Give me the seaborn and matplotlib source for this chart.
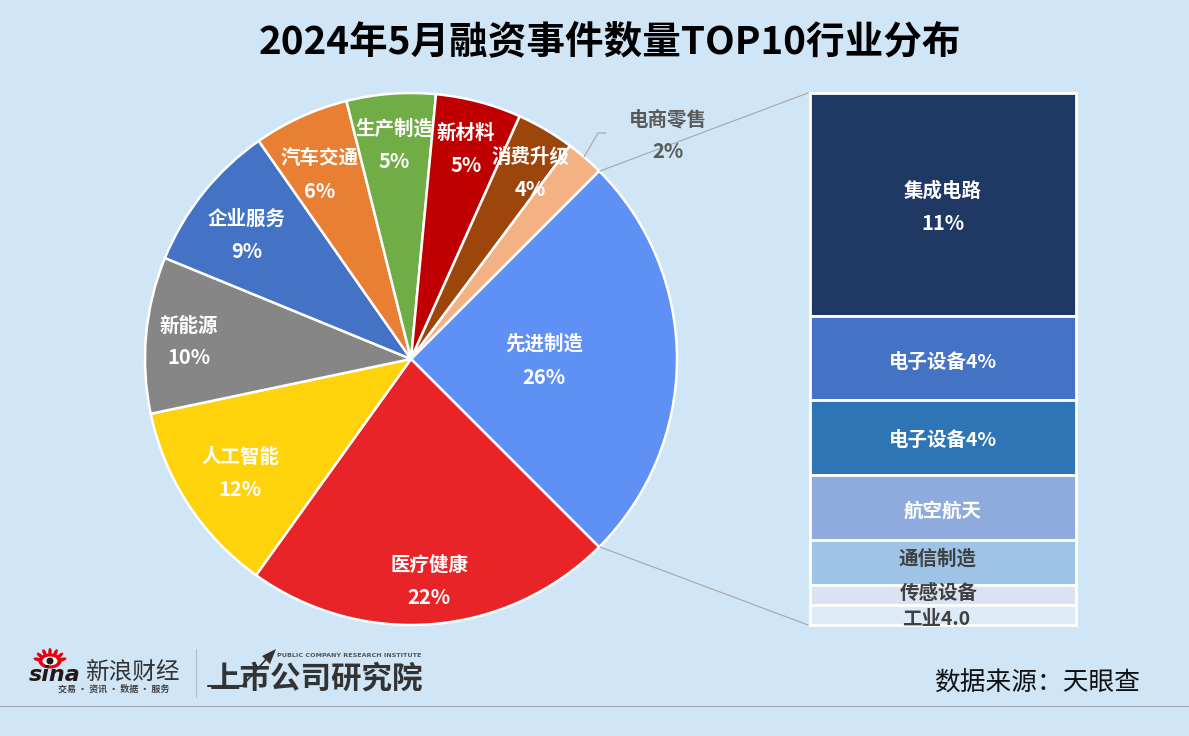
import numpy as np
import matplotlib
matplotlib.use('Agg')
import matplotlib.pyplot as plt
from matplotlib.patches import Ellipse, Polygon, Circle
import pandas as pd
import seaborn as sns

# pie data (percent)
industries = ['先进制造', '医疗健康', '人工智能', '新能源', '企业服务', '汽车交通', '生产制造', '新材料', '消费升级', '电商零售']
shares = [25.0, 22.4, 11.8, 9.5, 9.1, 5.8, 5.4, 5.2, 3.5, 2.3]
share_labels = ['26%', '22%', '12%', '10%', '9%', '6%', '5%', '5%', '4%', '2%']
pie_colors = ['#5F90F6', '#E92428', '#FFD30B', '#868686', '#4472C4', '#E97F32', '#70AD47', '#C00000', '#9C460B', '#F4B183']

# breakdown of 先进制造, top to bottom
sub_names = ['集成电路', '电子设备', '电子设备', '航空航天', '通信制造', '传感设备', '工业4.0']
sub_values = [11.0, 4.2, 3.7, 3.2, 2.2, 1.0, 1.0]
sub_colors = ['#1F3864', '#4472C4', '#2E75B6', '#8FAADC', '#9DC3E6', '#DAE3F3', '#DEEBF7']

BG = '#D0E5F5'
W, H = 1189, 736

sns.set_theme(style='white')
plt.rcParams['font.family'] = ['Noto Sans CJK SC', 'DejaVu Sans']


def px_axes(fig, left, top, right, bottom):
    return fig.add_axes([left / W, 1 - bottom / H, (right - left) / W, (bottom - top) / H])


fig = plt.figure(figsize=(W / 100, H / 100), dpi=100, facecolor=BG)

# pie
ax_pie = px_axes(fig, 145, 93, 677, 625)
ax_pie.pie(shares, colors=pie_colors, startangle=45, counterclock=False, radius=1,
           wedgeprops={'edgecolor': 'white', 'linewidth': 1.8, 'clip_on': False})
ax_pie.set_xlim(-1, 1)
ax_pie.set_ylim(-1, 1)
ax_pie.patch.set_alpha(0)

# stacked bar
ax_bar = px_axes(fig, 810, 93, 1076, 625)
df = pd.DataFrame({'x': 0, 'name': sub_names, 'value': sub_values, 'color': sub_colors})
df['bottom'] = df['value'].sum() - df['value'].cumsum()
for i, row in df.iterrows():
    sns.barplot(x=[row['x']], y=[row['value']], bottom=row['bottom'], color=row['color'], saturation=1,
                width=1, edgecolor='white', linewidth=2, clip_on=False, ax=ax_bar)
ax_bar.set_xlim(-0.5, 0.5)
ax_bar.set_ylim(0, df['value'].sum())
ax_bar.axis('off')

# overlay in pixel coordinates for texts, leaders and logo
ov = fig.add_axes([0, 0, 1, 1], zorder=5)
ov.set_xlim(0, W)
ov.set_ylim(H, 0)
ov.axis('off')

ov.text(610, 42, '2024年5月融资事件数量TOP10行业分布', fontsize=27.8, fontweight='bold', color='black',
        ha='center', va='center')

pie_label_pos = [(544, 344, 377), (429, 565, 597), (240, 457, 489), (189, 326, 358), (247, 219, 251),
                 (320, 158, 191), (394, 129, 162), (466, 133, 166), (530, 157, 189), (668, 120, 152)]
for name, lab, pos in zip(industries, share_labels, pie_label_pos):
    c = '#595959' if name == '电商零售' else 'white'
    ov.text(pos[0], pos[1], name, fontsize=14, fontweight='bold', color=c, ha='center', va='center')
    ov.text(pos[0], pos[2], lab, fontsize=14.5, fontweight='bold', color=c, ha='center', va='center')

# leaders
ov.plot([584, 598, 606], [157, 133, 133], color='#A6A6A6', lw=0.8)
ov.plot([600, 808], [171, 93], color='#A6A6A6', lw=0.8)
ov.plot([600, 808], [547, 625], color='#A6A6A6', lw=0.8)

# bar labels
sub_label_pos = [(943, 191, 223), (943, 362, None), (943, 440, None), (943, 511, None),
                 (937, 559, None), (939, 593, None), (936, 619, None)]
sub_label_txt = [('集成电路', '11%'), ('电子设备4%', None), ('电子设备4%', None), ('航空航天', None),
                 ('通信制造', None), ('传感设备', None), ('工业4.0', None)]
for i, (txt, pos) in enumerate(zip(sub_label_txt, sub_label_pos)):
    c = 'white' if i < 4 else '#404040'
    ov.text(pos[0], pos[1], txt[0], fontsize=14, fontweight='bold', color=c, ha='center', va='center')
    if txt[1]:
        ov.text(pos[0], pos[2], txt[1], fontsize=14.5, fontweight='bold', color=c, ha='center', va='center')

# footer
ov.text(1037, 684, '数据来源：天眼查', fontsize=18.5, color='#111111', ha='center', va='center')
ov.plot([0, W], [705.5, 705.5], color='#A4A9B8', lw=0.8)
ov.plot([195.5, 195.5], [649, 697], color='#B5BEC8', lw=0.8)

# sina logo, rough
for ang in np.linspace(-165, -15, 7):
    a = np.radians(ang)
    ov.add_patch(Ellipse((50 + 13 * np.cos(a), 662 + 10 * np.sin(a)), 8, 3.5, angle=ang, color='#E60012', lw=0))
ov.add_patch(Ellipse((50, 661), 23, 15, color='#E60012', lw=0))
ov.add_patch(Ellipse((50, 661), 15, 9, color='white', lw=0))
ov.add_patch(Circle((50, 661), 3.5, color='#231815', lw=0))
ov.text(55, 675, 'sina', fontsize=16, fontweight='bold', style='italic', color='#231815',
        family='DejaVu Sans', ha='center', va='center')
ov.text(132, 672, '新浪财经', fontsize=17, color='#333333', ha='center', va='center')
ov.text(114, 689, '交易 · 资讯 · 数据 · 服务', fontsize=6.5, fontweight='bold', color='#444444', ha='center', va='center')

# institute logo, rough
ov.text(316, 679, '上市公司研究院', fontsize=22, fontweight='black', color='#333333', ha='center', va='center')
ov.plot([208, 244], [686, 686], color='#333333', lw=1.5)
ov.plot([243, 270], [685, 655], color='#333333', lw=1.2)
ov.add_patch(Polygon([[276, 649], [262, 656], [270, 664]], color='#333333', lw=0))
ov.text(349, 655.5, 'PUBLIC COMPANY RESEARCH INSTITUTE', fontsize=4.6, fontweight='bold', color='#555555',
        family='DejaVu Sans', ha='center', va='center')

fig.savefig('out.png', dpi=100, facecolor=BG)
